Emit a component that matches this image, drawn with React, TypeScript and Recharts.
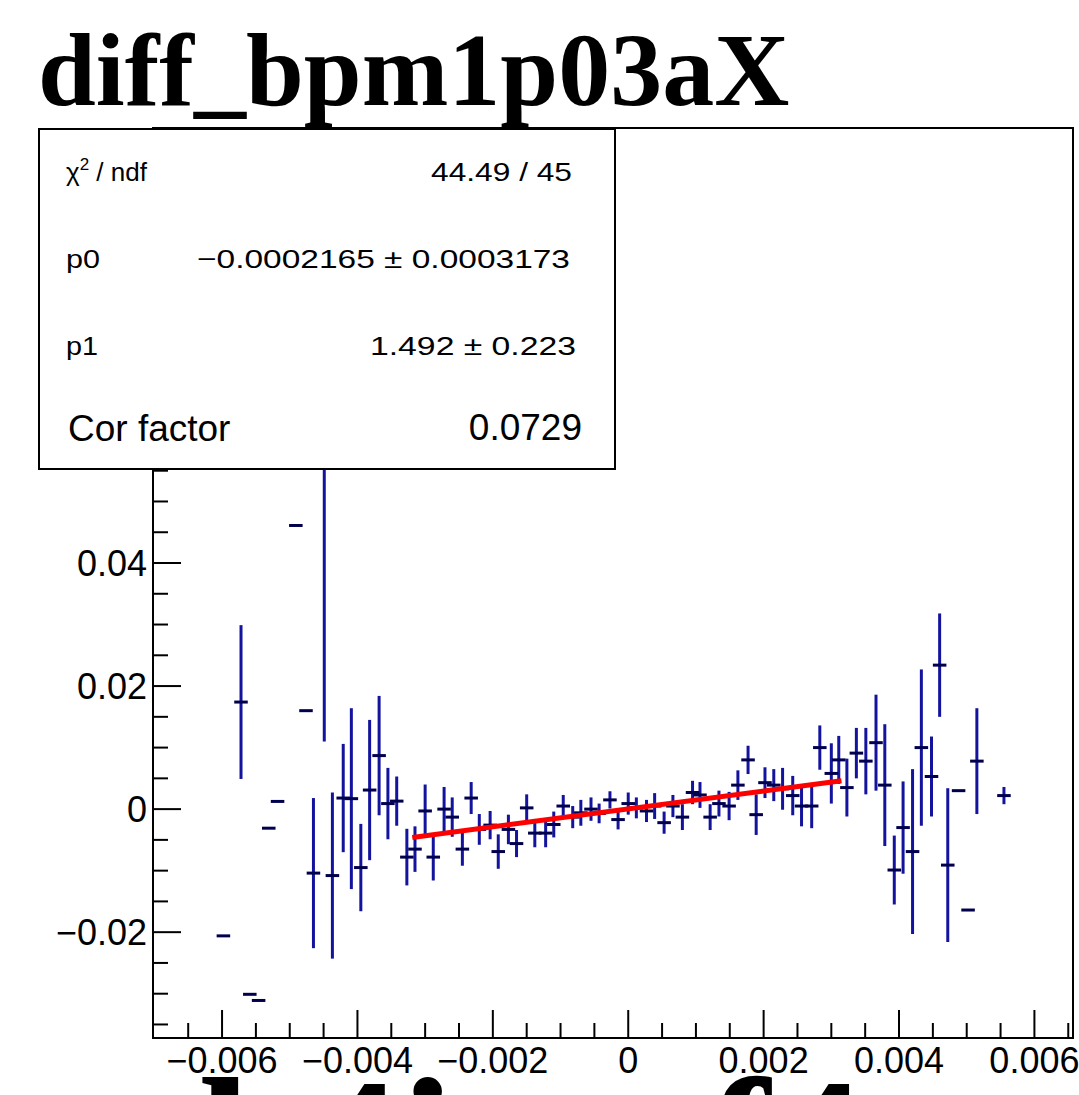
import React from "react";
import { ScatterChart, Scatter, XAxis, YAxis, ErrorBar, ReferenceArea } from "recharts";

// profile points
const xVals = [
  -0.00598, -0.00572, -0.00559, -0.00546, -0.00531, -0.00518, -0.00491, -0.00476, -0.00465, -0.00449,
  -0.00437, -0.00421, -0.00409, -0.00395, -0.00382, -0.00368, -0.00355, -0.00342, -0.00327, -0.00315,
  -0.003, -0.00288, -0.00272, -0.0026, -0.00245, -0.00232, -0.0022, -0.00204, -0.00192, -0.00177,
  -0.00165, -0.0015, -0.00138, -0.00122, -0.0011, -0.00096, -0.00082, -0.0007, -0.00055, -0.00043,
  -0.00027, -0.00015, 0.0, 0.00012, 0.00027, 0.00039, 0.00053, 0.00066, 0.0008, 0.00095,
  0.00106, 0.00121, 0.00134, 0.00149, 0.00162, 0.00177, 0.00189, 0.00202, 0.00215, 0.00228,
  0.00243, 0.00256, 0.00271, 0.00283, 0.003, 0.00311, 0.00323, 0.00337, 0.00351, 0.00366,
  0.00379, 0.00393, 0.00406, 0.0042, 0.00433, 0.00448, 0.0046, 0.00472, 0.00488, 0.00502,
  0.00515, 0.00555,
];
const yVals = [
  -0.0206, 0.0174, -0.0301, -0.0311, -0.0031, 0.00125, 0.0461, 0.016, -0.0104, 0.06,
  -0.0108, 0.0018, 0.0017, -0.0095, 0.0031, 0.0087, 0.0009, 0.0013, -0.0078, -0.0065,
  -0.0003, -0.0078, 0.0, -0.0013, -0.0065, 0.0018, -0.0033, -0.0026, -0.0069, -0.0033,
  -0.0056, 0.0002, -0.0039, -0.0039, -0.0025, 0.0005, -0.0013, -0.0006, 0.0, -0.0007,
  0.0015, -0.0017, 0.0009, 0.0002, -0.0003, 0.0005, -0.0022, 0.0005, -0.0013, 0.0027,
  0.0023, -0.0013, 0.0009, 0.0005, 0.0039, 0.008, -0.0009, 0.0043, 0.0039, 0.0033,
  0.0022, 0.0005, 0.0005, 0.01, 0.0058, 0.008, 0.0035, 0.0091, 0.0078, 0.0108,
  0.0039, -0.0099, -0.003, -0.0069, 0.01, 0.0053, 0.0234, -0.0091, 0.003, -0.0164,
  0.0078, 0.0022,
];
const yErrs = [
  0, 0.0125, 0, 0, 0, 0, 0, 0, 0.0122, 0.049,
  0.0135, 0.0088, 0.0147, 0.0071, 0.0114, 0.0097, 0.0058, 0.004, 0.0046, 0.0037,
  0.0043, 0.0038, 0.0036, 0.0032, 0.0027, 0.0026, 0.0025, 0.0023, 0.0028, 0.0024,
  0.0022, 0.0022, 0.0023, 0.0023, 0.0021, 0.0018, 0.0018, 0.0021, 0.0019, 0.0016,
  0.0014, 0.0016, 0.0018, 0.0017, 0.0018, 0.0021, 0.0018, 0.0018, 0.0021, 0.0019,
  0.0021, 0.0021, 0.0021, 0.0023, 0.0024, 0.0023, 0.0033, 0.0025, 0.0026, 0.0034,
  0.0032, 0.0033, 0.0036, 0.0036, 0.0049, 0.0039, 0.0047, 0.0041, 0.0054, 0.0078,
  0.0099, 0.0056, 0.0075, 0.0134, 0.0127, 0.0065, 0.0084, 0.0125, 0, 0,
  0.0086, 0.0014,
];
const xErr = 0.0001;

// fit line end points
const fitX = [-0.00319, 0.00315];
const fitY = [-0.0046, 0.0046];

const xTicks = [
  -0.0065, -0.006, -0.0055, -0.005, -0.0045, -0.004, -0.0035, -0.003, -0.0025, -0.002, -0.0015, -0.001, -0.0005,
  0, 0.0005, 0.001, 0.0015, 0.002, 0.0025, 0.003, 0.0035, 0.004, 0.0045, 0.005, 0.0055, 0.006, 0.0065,
];
const yTicks = [
  -0.035, -0.03, -0.025, -0.02, -0.015, -0.01, -0.005, 0, 0.005, 0.01, 0.015, 0.02, 0.025, 0.03, 0.035,
  0.04, 0.045, 0.05, 0.055, 0.06, 0.065, 0.07, 0.075, 0.08, 0.085, 0.09, 0.095, 0.1, 0.105, 0.11,
];
const xDomain = [-0.00702, 0.00657];
const yDomain = [-0.0372, 0.1107];

const points = xVals.map((x, i) => ({ x, y: yVals[i], ey: yErrs[i], ex: xErr }));
const fitData = fitX.map((x, i) => ({ x, y: fitY[i] }));

const SANS = "'Liberation Sans', Arial, Helvetica, sans-serif";
const SERIF = "'Liberation Serif', 'Times New Roman', serif";

const isMajor = (v: number, step: number) => Math.abs(v / step - Math.round(v / step)) < 1e-6;
const fmt = (v: number) => {
  const r = Number(v.toFixed(5));
  if (r === 0) return "0";
  return (r < 0 ? "\u2212" : "") + String(Math.abs(r));
};

// axis sits 1px-tick away, ticks point inward like ROOT
function XTick(props: any) {
  const { x, payload } = props;
  const y = props.y - 1;
  const major = isMajor(payload.value, 0.002);
  return (
    <g>
      <line x1={x} x2={x} y1={y} y2={y - (major ? 28 : 15)} stroke="#000" strokeWidth={2} />
      {major && (
        <text x={x} y={y + 35} textAnchor="middle" fontSize={36} fontFamily={SANS} fill="#000">
          {fmt(payload.value)}
        </text>
      )}
    </g>
  );
}

function YTick(props: any) {
  const { y, payload } = props;
  const x = props.x + 1;
  const major = isMajor(payload.value, 0.02);
  return (
    <g>
      <line x1={x} x2={x + (major ? 28 : 15)} y1={y} y2={y} stroke="#000" strokeWidth={2} />
      {major && (
        <text x={x - 6} y={y + 13} textAnchor="end" fontSize={36} fontFamily={SANS} fill="#000">
          {fmt(payload.value)}
        </text>
      )}
    </g>
  );
}

const noShape = () => <g />;

export default function App() {
  return (
    <div style={{ position: "relative", width: 1079, height: 1095, overflow: "hidden", background: "#fff" }}>
      <style>{`body{margin:0}`}</style>
      <ScatterChart width={1079} height={1095} margin={{ top: 128, right: 6, bottom: 17, left: 93 }}>
        <XAxis
          type="number"
          dataKey="x"
          domain={xDomain}
          allowDataOverflow
          ticks={xTicks}
          interval={0}
          height={40}
          tickSize={1}
          tickMargin={0}
          tickLine={false}
          axisLine={false}
          tick={<XTick />}
        />
        <YAxis
          type="number"
          dataKey="y"
          domain={yDomain}
          allowDataOverflow
          ticks={yTicks}
          interval={0}
          width={60}
          tickSize={1}
          tickMargin={0}
          tickLine={false}
          axisLine={false}
          tick={<YTick />}
        />
        <Scatter data={points} dataKey="y" shape={noShape} isAnimationActive={false}>
          <ErrorBar dataKey="ey" direction="y" width={0} stroke="#13139e" strokeWidth={3} isAnimationActive={false} />
          <ErrorBar dataKey="ex" direction="x" width={0} stroke="#00004d" strokeWidth={3} isAnimationActive={false} />
        </Scatter>
        <Scatter
          data={fitData}
          dataKey="y"
          shape={noShape}
          line={{ stroke: "#ff0000", strokeWidth: 5 }}
          isAnimationActive={false}
        />
        <ReferenceArea
          x1={xDomain[0]}
          x2={xDomain[1]}
          y1={yDomain[0]}
          y2={yDomain[1]}
          fill="none"
          stroke="#000"
          strokeWidth={2}
          ifOverflow="visible"
        />
      </ScatterChart>

      <svg width={1079} height={1095} style={{ position: "absolute", left: 0, top: 0, pointerEvents: "none" }}>
        <text x={38} y={105} fontFamily={SERIF} fontWeight="bold" fontSize={104} fill="#000">
          diff_bpm1p03aX
        </text>

        <rect x={39} y={129} width={576} height={340} fill="#fff" stroke="#000" strokeWidth={2} />
        <g fontFamily={SANS} fill="#000" fontSize={26}>
          <text x={66} y={181}>
            <tspan>χ</tspan>
            <tspan fontSize={17} dy={-11}>2</tspan>
            <tspan dy={11}> / ndf</tspan>
          </text>
          <text x={572} y={181} textAnchor="end" textLength={141} lengthAdjust="spacingAndGlyphs">
            44.49 / 45
          </text>
          <text x={66} y={268} textLength={34} lengthAdjust="spacingAndGlyphs">p0</text>
          <text x={570} y={268} textAnchor="end" textLength={373} lengthAdjust="spacingAndGlyphs">
            {"\u22120.0002165  \u00b1 0.0003173"}
          </text>
          <text x={66} y={355} textLength={32} lengthAdjust="spacingAndGlyphs">p1</text>
          <text x={576} y={355} textAnchor="end" textLength={206} lengthAdjust="spacingAndGlyphs">
            {"1.492  \u00b1 0.223"}
          </text>
          <text x={68} y={441} fontSize={37}>Cor factor</text>
          <text x={582} y={440} textAnchor="end" fontSize={37}>0.0729</text>
        </g>

        <text x={200} y={1210} fontFamily={SERIF} fontWeight="bold" fontSize={190} fill="#000">
          b4imaf4
        </text>
      </svg>
    </div>
  );
}
